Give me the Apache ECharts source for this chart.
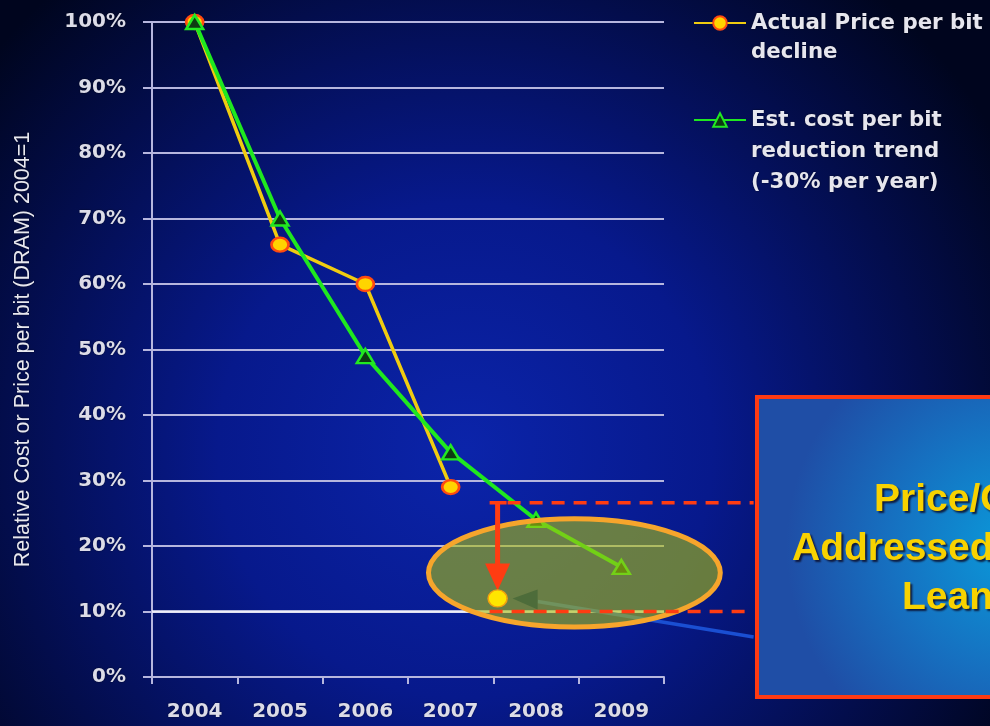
<!DOCTYPE html>
<html>
<head>
<meta charset="utf-8">
<title>DRAM price and cost per bit</title>
<script src="https://cdn.jsdelivr.net/npm/echarts@6/dist/echarts.min.js"></script>
<style>
  html, body { margin: 0; padding: 0; background: #000418; }
  #chart { width: 990px; height: 726px; }
</style>
</head>
<body>
<div id="chart"></div>
<script>
// Categories and series values (percent of 2004 level)
const years = ['2004', '2005', '2006', '2007', '2008', '2009'];
const actualPrice = [100, 66, 60, 29, null, null];
const costTrend = [100, 70, 49, 34.3, 24, 16.8];
const yTicks = [0, 10, 20, 30, 40, 50, 60, 70, 80, 90, 100];

// Latest price reading, placed on a continuous year scale
const latestPrice = [[2007.55, 12]];
// Price/cost gap bounds (percent)
const gapTop = 26.6;
const gapBottom = 10;
// Highlight ellipse: centre (year, percent) and radii (years, percent)
const gapEllipse = { cx: 2008.45, cy: 15.9, rx: 1.71, ry: 8.25 };
// Left edge of the callout panel on the year scale
const calloutYear = 2010.55;

const nameActual = 'Actual Price per bit\ndecline';
const nameTrend = 'Est. cost per bit\nreduction trend\n(-30% per year)';

const calloutLines = ['Price/Cost Gap', 'Addressed by', 'Lean Manufacturing'];

const gridColor = '#b6b6de';
const labelColor = '#dcdce8';

// Legend text is centred on its symbol; leading blank lines keep the
// symbol level with the first line of a multi-line entry.
function legendLabel(name) {
  const n = name.split('\n').length;
  return '\n'.repeat(n - 1) + name;
}

function renderGap(params, api) {
  const children = [];
  const c = api.coord([gapEllipse.cx, gapEllipse.cy]);
  const r = api.size([gapEllipse.rx, gapEllipse.ry]);
  const dot = api.coord(latestPrice[0]);
  const top = api.coord([latestPrice[0][0], gapTop]);
  const bottom = api.coord([latestPrice[0][0], gapBottom]);
  const rightTop = api.coord([calloutYear, gapTop]);
  const rightBottom = api.coord([calloutYear, gapBottom]);
  const pointerEnd = api.coord([calloutYear, 6.1]);

  // connector running from the callout panel back to the latest reading
  const headTip = [dot[0] + 15, dot[1]];
  const headBase = [dot[0] + 40, dot[1] + 3];
  children.push({
    type: 'line',
    shape: { x1: headBase[0], y1: headBase[1], x2: pointerEnd[0], y2: pointerEnd[1] },
    style: { stroke: '#1a4fd2', lineWidth: 3.5 }
  });

  // highlight ellipse
  children.push({
    type: 'ellipse',
    shape: { cx: c[0], cy: c[1], rx: r[0], ry: r[1] },
    style: { fill: 'rgba(170,192,16,0.6)', stroke: '#f6a52c', lineWidth: 5 }
  });

  children.push({
    type: 'polygon',
    shape: { points: [headTip, [headBase[0], headBase[1] - 12], [headBase[0], headBase[1] + 8]] },
    style: { fill: '#4d6c3a' }
  });

  // dashed gap bounds
  const dash = [13, 9];
  children.push({
    type: 'line', z2: 10,
    shape: { x1: top[0] + 10, y1: top[1], x2: rightTop[0], y2: rightTop[1] },
    style: { stroke: '#ff3c12', lineWidth: 3.5, lineDash: dash }
  });
  children.push({
    type: 'line', z2: 10,
    shape: { x1: bottom[0] - 8, y1: bottom[1], x2: rightBottom[0], y2: rightBottom[1] },
    style: { stroke: '#ff3c12', lineWidth: 3.5, lineDash: dash }
  });

  // downward arrow from the gap top to the latest reading
  const tipY = dot[1] - 8;
  const headLen = 27;
  children.push({
    type: 'line', z2: 10,
    shape: { x1: top[0] - 8, y1: top[1], x2: top[0] + 9, y2: top[1] },
    style: { stroke: '#ff3c12', lineWidth: 3.5 }
  });
  children.push({
    type: 'line', z2: 10,
    shape: { x1: top[0], y1: top[1], x2: top[0], y2: tipY - headLen + 2 },
    style: { stroke: '#ff3c12', lineWidth: 5 }
  });
  children.push({
    type: 'polygon', z2: 10,
    shape: { points: [[top[0], tipY], [top[0] - 12.5, tipY - headLen], [top[0] + 12.5, tipY - headLen]] },
    style: { fill: '#ff3c12' }
  });

  return { type: 'group', children: children };
}

const legendText = {
  color: '#e6e6ee', fontFamily: 'DejaVu Sans', fontWeight: 'bold', fontSize: 21.3,
  textShadowColor: 'rgba(0,0,0,0.6)', textShadowBlur: 2
};

const chart = echarts.init(document.getElementById('chart'), null, { renderer: 'canvas' });

chart.setOption({
  backgroundColor: {
    type: 'radial', x: 0.47, y: 0.62, r: 0.85,
    colorStops: [
      { offset: 0, color: '#0b24aa' },
      { offset: 0.4, color: '#07198c' },
      { offset: 0.75, color: '#030d4c' },
      { offset: 1, color: '#00051e' }
    ]
  },
  animation: false,
  grid: { left: 152, right: 326, top: 22, bottom: 49 },
  legend: [
    {
      data: [nameActual], orient: 'vertical', left: 693, top: -20.5, padding: 0,
      itemWidth: 52, itemHeight: 17, itemGap: 0, selectedMode: false,
      formatter: legendLabel,
      textStyle: Object.assign({ lineHeight: 29 }, legendText)
    },
    {
      data: [nameTrend], orient: 'vertical', left: 693, top: 42.5, padding: 0,
      itemWidth: 52, itemHeight: 17, itemGap: 0, selectedMode: false,
      formatter: legendLabel,
      textStyle: Object.assign({ lineHeight: 31 }, legendText)
    }
  ],
  xAxis: [
    {
      type: 'category', data: years, boundaryGap: true,
      axisLine: { lineStyle: { color: gridColor, width: 2 } },
      axisTick: { show: true, length: 7, lineStyle: { color: gridColor, width: 2 } },
      axisLabel: {
        color: labelColor, fontFamily: 'DejaVu Sans', fontWeight: 'bold', fontSize: 20, margin: 25,
        textShadowColor: 'rgba(0,0,0,0.6)', textShadowBlur: 2
      },
      splitLine: { show: false }
    },
    {
      // continuous year scale used by the gap annotation
      type: 'value', min: 2003.5, max: 2009.5, show: false, position: 'top'
    }
  ],
  yAxis: {
    type: 'value', min: yTicks[0], max: yTicks[yTicks.length - 1], interval: 10,
    name: 'Relative Cost or Price per bit (DRAM) 2004=1',
    nameLocation: 'middle', nameGap: 118, nameRotate: 90,
    nameTextStyle: {
      color: '#e8e8f0', fontFamily: '"Liberation Sans", Arial, sans-serif', fontSize: 21.5,
      textShadowColor: 'rgba(0,0,0,0.6)', textShadowBlur: 2
    },
    axisLine: { show: true, lineStyle: { color: gridColor, width: 2 } },
    axisTick: { show: true, length: 9, lineStyle: { color: gridColor, width: 2 } },
    axisLabel: {
      formatter: '{value}%', color: labelColor, fontFamily: 'DejaVu Sans', fontWeight: 'bold',
      fontSize: 20, margin: 26, textShadowColor: 'rgba(0,0,0,0.6)', textShadowBlur: 2
    },
    splitLine: { show: true, lineStyle: { color: gridColor, width: 2 } }
  },
  series: [
    {
      name: nameActual, type: 'line', data: actualPrice, z: 2,
      symbol: 'circle', symbolSize: [17, 14],
      lineStyle: { color: '#f0cc10', width: 3.5 },
      itemStyle: { color: '#ffd400', borderColor: '#ff4a10', borderWidth: 2.5 },
      markLine: {
        silent: true, symbol: 'none', z: 1, label: { show: false },
        lineStyle: { color: '#eeeef8', width: 2.5, type: 'solid' },
        data: [{ yAxis: gapBottom }]
      }
    },
    {
      name: nameTrend, type: 'line', data: costTrend, z: 3,
      symbol: 'triangle', symbolSize: [17, 14],
      lineStyle: { color: '#1fe81f', width: 4 },
      itemStyle: { color: '#0d3a12', borderColor: '#22e822', borderWidth: 2.5 }
    },
    {
      name: 'gap', type: 'custom', xAxisIndex: 1, yAxisIndex: 0, z: 4, clip: false, silent: true,
      data: [[gapEllipse.cx, gapEllipse.cy]],
      renderItem: renderGap
    },
    {
      name: 'latest', type: 'scatter', xAxisIndex: 1, yAxisIndex: 0, z: 5, silent: true,
      data: latestPrice, symbol: 'circle', symbolSize: [19, 17],
      itemStyle: { color: '#ffe600', borderColor: '#f0a010', borderWidth: 1.5, opacity: 1 }
    }
  ],
  graphic: [
    {
      type: 'group', left: 755, top: 395, z: 10,
      children: [
        {
          type: 'rect', shape: { x: 0, y: 0, width: 320, height: 300 },
          style: {
            fill: {
              type: 'radial', x: 0.8, y: 0.5, r: 0.75,
              colorStops: [
                { offset: 0, color: '#0a9ada' },
                { offset: 0.55, color: '#1670c0' },
                { offset: 1, color: '#1f4ea6' }
              ]
            },
            stroke: '#ff3a12', lineWidth: 4
          }
        },
        {
          type: 'text', x: 117, y: 103,
          style: {
            text: calloutLines[0], fill: '#f8d200', font: 'bold 39px "Liberation Sans", Arial',
            textAlign: 'left', textVerticalAlign: 'middle',
            textShadowColor: 'rgba(10,10,40,0.85)', textShadowOffsetX: 2, textShadowOffsetY: 2, textShadowBlur: 2
          }
        },
        {
          type: 'text', x: 35, y: 152,
          style: {
            text: calloutLines[1], fill: '#f8d200', font: 'bold 39px "Liberation Sans", Arial',
            textAlign: 'left', textVerticalAlign: 'middle',
            textShadowColor: 'rgba(10,10,40,0.85)', textShadowOffsetX: 2, textShadowOffsetY: 2, textShadowBlur: 2
          }
        },
        {
          type: 'text', x: 145, y: 201,
          style: {
            text: calloutLines[2], fill: '#f8d200', font: 'bold 39px "Liberation Sans", Arial',
            textAlign: 'left', textVerticalAlign: 'middle',
            textShadowColor: 'rgba(10,10,40,0.85)', textShadowOffsetX: 2, textShadowOffsetY: 2, textShadowBlur: 2
          }
        }
      ]
    }
  ]
});
</script>
</body>
</html>
